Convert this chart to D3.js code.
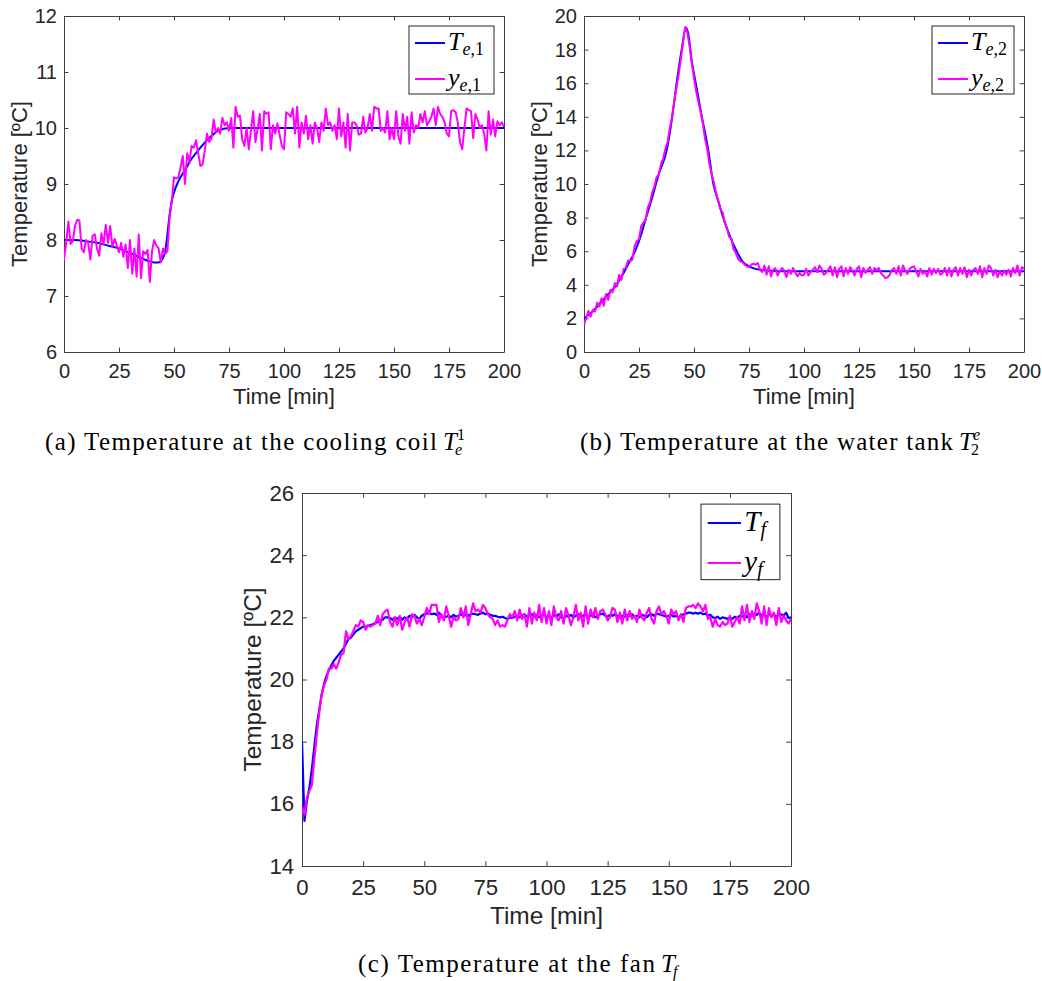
<!DOCTYPE html>
<html>
<head>
<meta charset="utf-8">
<script src="https://cdn.jsdelivr.net/npm/d3@7"></script>
<style>
  body { margin: 0; background: #fff; }
  .tick text { fill: #262626; font-family: "Liberation Sans", Arial, sans-serif; }
  .cap { font-family: "Liberation Serif", "Times New Roman", serif; fill: #000; }
</style>
</head>
<body>
<div id="chart"></div>
<script>
// time axis (one sample per minute)
const minutes = d3.range(0, 201)
const xTicks = [0, 25, 50, 75, 100, 125, 150, 175, 200]

// (a) cooling coil
const yTicksA = [6, 7, 8, 9, 10, 11, 12]
const te1Time = [0, 5, 10, 15, 20, 25, 30, 35, 38, 41, 43, 44, 45, 46, 47, 48, 49, 50, 52, 55, 58, 62, 66, 70, 75, 200]
const te1Values = [8.0, 8.0, 7.98, 7.95, 7.9, 7.85, 7.77, 7.68, 7.63, 7.6, 7.6, 7.62, 7.68, 7.8, 8.1, 8.45, 8.7, 8.85, 9.05, 9.25, 9.45, 9.65, 9.82, 9.95, 10.0, 10.0]
const ye1Values = [
  7.65, 7.95, 8.33, 7.93, 7.98, 8.25, 8.36, 8.35, 7.85, 7.78, 8.0, 7.95, 7.65, 8.08, 8.1, 7.85, 7.72, 8.12, 7.92, 8.27,
  7.95, 8.25, 7.88, 8.02, 7.9, 7.78, 7.95, 7.7, 7.92, 7.5, 8.0, 7.4, 7.85, 7.35, 8.1, 7.32, 7.8, 7.75, 7.82, 7.25,
  7.8, 8.0, 7.9, 7.85, 7.6, 7.85, 7.75, 7.8, 8.4, 8.7, 9.12, 9.1, 9.12, 9.3, 9.5, 9.0, 9.55, 9.4, 9.68, 9.65,
  9.78, 9.55, 9.32, 9.35, 9.6, 9.9, 9.75, 9.8, 10.15, 9.92, 10.0, 9.9, 10.18, 10.05, 10.1, 9.95, 10.18, 9.65, 10.38, 10.2,
  10.22, 9.8, 9.68, 10.0, 9.62, 9.97, 10.3, 9.75, 9.98, 10.25, 9.6, 10.3, 10.25, 10.28, 9.62, 10.05, 9.9, 10.08, 9.88, 9.68,
  9.62, 10.28, 10.25, 10.2, 10.35, 9.9, 10.38, 9.65, 10.1, 9.9, 10.22, 9.8, 10.05, 9.72, 10.1, 10.0, 9.75, 10.1, 9.95, 10.35,
  10.05, 10.1, 9.95, 10.05, 9.8, 10.35, 9.85, 10.1, 9.65, 10.25, 9.6, 10.1, 10.1, 10.05, 9.88, 9.9, 10.2, 9.92, 10.0, 10.25,
  9.95, 10.38, 10.35, 10.35, 9.95, 10.0, 9.92, 10.3, 9.8, 10.0, 9.8, 10.3, 9.85, 9.72, 10.25, 9.95, 10.2, 9.72, 10.28, 9.92,
  10.05, 10.0, 10.25, 10.1, 10.3, 10.05, 10.12, 10.2, 10.35, 10.05, 10.38, 10.25, 10.2, 10.1, 9.9, 9.85, 10.3, 10.32, 10.28, 10.1,
  9.75, 9.62, 10.0, 10.35, 10.32, 10.3, 9.82, 10.25, 10.15, 10.0, 10.05, 9.9, 9.6, 10.3, 9.88, 10.15, 9.85, 10.12, 10.05, 10.1,
  10.02
]

// (b) water tank
const yTicksB = [0, 2, 4, 6, 8, 10, 12, 14, 16, 18, 20]
const te2Time = [0, 3, 6, 10, 14.8, 18, 20, 23.2, 26, 28.2, 31, 34, 37.6, 40, 42.1, 44.4, 46.3, 47.3, 49, 50.8, 53, 56.5, 58.8, 61, 63.3, 66, 69.4, 72, 75, 80, 90, 200]
const te2Values = [2.0, 2.3, 2.7, 3.3, 4.0, 4.7, 5.2, 6.0, 7.0, 8.0, 9.2, 10.6, 12.0, 13.9, 16.0, 18.0, 19.3, 19.0, 17.3, 16.0, 14.4, 12.0, 10.0, 9.0, 8.0, 7.0, 6.0, 5.4, 5.1, 4.9, 4.8, 4.8]
const ye2Values = [
  1.65, 2.0, 2.45, 2.1, 2.5, 2.4, 2.95, 2.7, 3.2, 2.75, 3.45, 3.1, 3.7, 3.55, 4.1, 3.9, 4.6, 4.3, 4.95, 5.0,
  5.45, 5.4, 5.5, 6.3, 6.6, 6.7, 7.5, 7.7, 7.85, 8.6, 8.9, 9.5, 9.85, 10.4, 10.55, 11.2, 11.5, 12.1, 12.5, 13.3,
  14.0, 14.9, 15.7, 16.5, 17.4, 18.4, 19.35, 19.0, 18.2, 17.2, 16.3, 15.5, 14.9, 14.3, 13.6, 12.7, 12.1, 11.2, 10.6, 10.1,
  9.5, 9.0, 8.5, 8.3, 7.7, 7.4, 6.85, 6.75, 6.1, 5.9, 5.55, 5.4, 5.35, 5.2, 5.1, 5.05, 5.2, 5.25, 5.2, 5.3,
  4.9, 4.75, 5.15, 4.6, 5.1, 4.5, 4.9, 5.0, 4.55, 4.8, 5.0, 4.85, 4.45, 4.9, 4.65, 5.0, 4.75, 4.5, 4.7, 4.55,
  4.6, 4.95, 4.55, 4.75, 4.9, 5.05, 4.75, 5.15, 4.95, 4.6, 4.7, 4.9, 5.1, 4.55, 5.05, 4.45, 4.95, 5.1, 4.5, 5.0,
  4.65, 5.05, 4.85, 4.55, 4.95, 5.1, 4.45, 5.0, 4.7, 4.9, 5.05, 4.65, 5.0, 4.85, 5.0, 4.7, 4.55, 4.4, 4.45, 4.6,
  4.9, 5.0, 4.65, 5.1, 4.55, 5.15, 4.85, 4.65, 4.95, 5.05, 5.1, 4.8, 4.5, 4.95, 4.65, 4.8, 4.5, 5.0, 4.6, 4.95,
  4.7, 4.95, 4.6, 4.7, 5.0, 4.55, 5.0, 4.5, 4.9, 5.05, 4.55, 5.0, 4.65, 5.05, 4.45, 4.9, 4.55, 4.9, 5.0, 4.65,
  5.1, 4.45, 5.0, 4.65, 5.15, 5.0, 4.55, 4.9, 4.45, 4.8, 4.55, 4.85, 4.6, 4.9, 4.5, 5.0, 4.7, 5.15, 4.55, 5.05,
  4.95
]

// (c) fan
const yTicksC = [14, 16, 18, 20, 22, 24, 26]
const tfValues = [
  18.0, 15.45, 16.1, 16.5, 17.1, 17.8, 18.5, 19.0, 19.5, 19.85, 20.1, 20.3, 20.45, 20.6, 20.7, 20.8, 20.9, 21.0, 21.15, 21.3,
  21.35, 21.45, 21.55, 21.6, 21.65, 21.7, 21.7, 21.72, 21.75, 21.78, 21.82, 21.85, 21.9, 21.92, 22.0, 22.0, 21.98, 21.92, 22.0, 21.95,
  22.02, 21.92, 22.0, 21.95, 22.05, 22.0, 22.08, 22.0, 21.95, 22.05, 22.1, 22.12, 22.15, 22.1, 22.12, 22.08, 22.15, 22.05, 22.0, 22.02,
  22.05, 22.0, 22.08, 22.02, 22.05, 22.1, 22.05, 22.08, 22.05, 22.1, 22.12, 22.1, 22.08, 22.12, 22.15, 22.1, 22.12, 22.08, 22.05, 22.05,
  22.02, 22.0, 22.02, 21.98, 21.95, 22.0, 21.98, 22.02, 22.05, 22.0, 22.05, 22.1, 22.02, 22.05, 22.1, 22.02, 22.08, 22.0, 22.05, 22.1,
  22.0, 22.05, 21.98, 22.08, 22.02, 22.1, 22.0, 21.95, 22.05, 22.02, 22.08, 22.0, 22.05, 22.1, 22.0, 22.05, 22.1, 22.02, 22.05, 22.08,
  22.0, 22.05, 22.1, 22.12, 22.05, 22.02, 22.08, 22.05, 22.1, 22.05, 22.0, 22.05, 22.02, 22.08, 22.05, 22.1, 22.02, 22.05, 22.0, 22.08,
  22.05, 22.0, 22.08, 22.1, 22.05, 22.12, 22.1, 22.08, 22.05, 22.02, 22.05, 22.08, 22.02, 22.05, 22.0, 22.05, 22.1, 22.12, 22.15, 22.15,
  22.12, 22.15, 22.12, 22.15, 22.1, 22.12, 22.05, 22.08, 22.0, 21.98, 22.02, 21.95, 22.0, 21.98, 21.95, 22.0, 21.95, 22.02, 21.98, 22.05,
  22.02, 22.08, 22.0, 22.1, 22.05, 22.12, 22.08, 22.15, 22.05, 22.1, 22.0, 22.12, 22.05, 22.1, 22.0, 22.12, 22.1, 22.05, 22.15, 21.98,
  22.0
]
const yfValues = [
  15.9, 15.65, 16.2, 16.4, 16.6, 17.4, 18.2, 18.9, 19.5, 19.8, 20.0, 20.35, 20.35, 20.5, 20.35, 20.55, 20.8, 20.85, 21.55, 21.3,
  21.4, 21.55, 21.75, 21.7, 21.9, 21.85, 21.6, 21.75, 21.7, 21.75, 21.8, 22.05, 21.75, 22.1, 22.2, 22.25, 21.85, 21.7, 22.0, 21.75,
  22.05, 21.6, 21.85, 22.0, 21.7, 22.1, 22.05, 21.8, 21.95, 21.75, 22.0, 22.3, 22.1, 22.4, 22.4, 22.4, 21.85, 22.1, 21.9, 22.35,
  22.05, 21.7, 22.0, 21.9, 21.95, 22.3, 22.0, 22.35, 21.75, 22.1, 22.45, 22.2, 22.25, 22.15, 22.4, 22.3, 22.1, 22.0, 21.95, 21.75,
  21.9, 21.7, 21.75, 21.7, 21.9, 22.1, 22.0, 22.2, 21.9, 22.25, 21.95, 22.1, 21.7, 22.3, 21.8, 22.15, 21.9, 22.4, 21.85, 22.3,
  21.8, 22.2, 21.75, 22.35, 22.0, 21.9, 22.2, 21.8, 22.3, 22.05, 21.75, 22.0, 22.4, 21.9, 22.15, 21.7, 22.35, 21.8, 22.25, 22.0,
  22.3, 21.95, 22.2, 22.25, 22.1, 21.9, 22.0, 22.3, 22.25, 21.85, 22.15, 21.8, 22.25, 21.9, 22.2, 21.95, 22.05, 21.85, 22.25, 22.0,
  21.9, 22.15, 22.3, 21.95, 21.8, 22.2, 22.35, 22.1, 22.2, 22.05, 21.8, 22.25, 22.1, 22.2, 21.9, 22.1, 21.85, 22.3, 22.35, 22.35,
  22.4, 22.3, 22.45, 22.35, 22.2, 22.4, 21.95, 22.0, 21.7, 21.95, 21.75, 21.7, 21.85, 21.75, 21.8, 22.05, 21.7, 21.85, 22.0, 21.8,
  22.35, 21.9, 22.4, 21.85, 22.2, 21.95, 22.45, 22.2, 21.8, 22.35, 21.75, 22.3, 22.0, 22.15, 21.75, 22.3, 21.85, 22.05, 21.9, 21.8,
  21.95
]

const WIDTH = 1042
const HEIGHT = 981
const BLUE = "#0000ff"
const MAGENTA = "#ff00ff"
const AXIS = "#404040"

const svg = d3.select("#chart")
  .append("svg")
  .attr("width", WIDTH)
  .attr("height", HEIGHT)

svg.append("rect").attr("width", WIDTH).attr("height", HEIGHT).attr("fill", "#fff")

function styleAxis(sel, fontSize, keepLabels) {
  sel.select(".domain").attr("stroke", AXIS).attr("stroke-width", 1)
  sel.selectAll(".tick line").attr("stroke", AXIS).attr("stroke-width", 1)
  if (!keepLabels) sel.selectAll(".tick text").remove()
  sel.selectAll(".tick text").attr("font-size", fontSize)
}

function drawPanel(p) {
  const s = p.scale
  const x = d3.scaleLinear().domain([0, 200]).range([p.left, p.left + p.width])
  const y = d3.scaleLinear().domain(p.yDomain).range([p.top + p.height, p.top])
  const g = svg.append("g")
  const tickLen = 4.4 * s
  const fontSize = 20 * s
  const fmt = d => d

  g.append("clipPath").attr("id", "clip-" + p.id)
    .append("rect")
    .attr("x", p.left).attr("y", p.top)
    .attr("width", p.width).attr("height", p.height)

  g.append("g")
    .attr("transform", `translate(0,${p.top + p.height})`)
    .call(d3.axisBottom(x).tickValues(xTicks).tickFormat(fmt).tickSizeInner(-tickLen).tickSizeOuter(0).tickPadding(12 * s))
    .call(a => styleAxis(a, fontSize, true))

  g.append("g")
    .attr("transform", `translate(0,${p.top})`)
    .call(d3.axisTop(x).tickValues(xTicks).tickSizeInner(-tickLen).tickSizeOuter(0))
    .call(a => styleAxis(a, fontSize, false))

  g.append("g")
    .attr("transform", `translate(${p.left},0)`)
    .call(d3.axisLeft(y).tickValues(p.yTicks).tickFormat(fmt).tickSizeInner(-tickLen).tickSizeOuter(0).tickPadding(7 * s))
    .call(a => styleAxis(a, fontSize, true))

  g.append("g")
    .attr("transform", `translate(${p.left + p.width},0)`)
    .call(d3.axisRight(y).tickValues(p.yTicks).tickSizeInner(-tickLen).tickSizeOuter(0))
    .call(a => styleAxis(a, fontSize, false))

  // axis titles
  g.append("text")
    .attr("x", p.left + p.width / 2)
    .attr("y", p.top + p.height + 52 * s)
    .attr("text-anchor", "middle")
    .attr("font-family", "Liberation Sans, Arial, sans-serif")
    .attr("font-size", 22 * s)
    .attr("fill", "#262626")
    .text("Time [min]")

  g.append("text")
    .attr("transform", `translate(${p.left - 37 * s},${p.top + p.height / 2}) rotate(-90)`)
    .attr("text-anchor", "middle")
    .attr("font-family", "Liberation Sans, Arial, sans-serif")
    .attr("font-size", 22 * s)
    .attr("fill", "#262626")
    .text("Temperature [ºC]")

  // lines
  const lines = g.append("g").attr("clip-path", `url(#clip-${p.id})`)
  const smooth = d3.line().curve(p.smoothCurve).x(d => x(d[0])).y(d => y(d[1]))
  lines.append("path")
    .datum(p.trueTime.map((t, i) => [t, p.trueValues[i]]))
    .attr("fill", "none")
    .attr("stroke", BLUE)
    .attr("stroke-width", 2 * s)
    .attr("stroke-linejoin", "round")
    .attr("d", smooth)

  const raw = d3.line().x(d => x(d[0])).y(d => y(d[1]))
  lines.append("path")
    .datum(minutes.map((t, i) => [t, p.measured[i]]))
    .attr("fill", "none")
    .attr("stroke", MAGENTA)
    .attr("stroke-width", 2 * s)
    .attr("stroke-linejoin", "round")
    .attr("d", raw)

  // legend
  const lw = p.legendWidth * s
  const lh = 68 * s
  const lx = p.left + p.width - 10 * s - lw
  const ly = p.top + 10 * s
  const lg = g.append("g")
  lg.append("rect")
    .attr("x", lx).attr("y", ly)
    .attr("width", lw).attr("height", lh)
    .attr("fill", "#fff")
    .attr("stroke", "#262626")
    .attr("stroke-width", 1)

  p.legend.forEach((item, i) => {
    const rowY = ly + (i === 0 ? 17 : 53) * s
    lg.append("line")
      .attr("x1", lx + 6 * s).attr("x2", lx + 36 * s)
      .attr("y1", rowY).attr("y2", rowY)
      .attr("stroke", i === 0 ? BLUE : MAGENTA)
      .attr("stroke-width", 2 * s)
    const t = lg.append("text")
      .attr("x", lx + 39 * s)
      .attr("y", rowY + 7 * s)
      .attr("font-family", "Liberation Serif, Times New Roman, serif")
      .attr("font-size", 26 * s)
      .attr("fill", "#000")
    t.append("tspan").attr("font-style", "italic").text(item.base)
    t.append("tspan").attr("dy", 5 * s).attr("font-size", 18 * s).attr("font-style", "italic").text(item.subItalic)
    if (item.subRest) t.append("tspan").attr("font-size", 18 * s).text(item.subRest)
  })
}

// caption: label text spread to the given width, then T with super/subscripts
function caption(x0, y0, label, labelWidth, sup, sub) {
  svg.append("text").attr("class", "cap")
    .attr("x", x0).attr("y", y0).attr("font-size", 25)
    .attr("textLength", labelWidth).attr("lengthAdjust", "spacing")
    .text(label)
  const tx = x0 + labelWidth + 6
  const T = svg.append("text").attr("class", "cap")
    .attr("x", tx).attr("y", y0).attr("font-size", 25).attr("font-style", "italic").text("T")
  const tw = T.node().getComputedTextLength()
  if (sup) {
    svg.append("text").attr("class", "cap")
      .attr("x", tx + tw).attr("y", y0 - 10).attr("font-size", 16)
      .attr("font-style", sup.italic ? "italic" : "normal").text(sup.text)
  }
  if (sub) {
    svg.append("text").attr("class", "cap")
      .attr("x", tx + tw - 2).attr("y", y0 + 5).attr("font-size", 16)
      .attr("font-style", sub.italic ? "italic" : "normal").text(sub.text)
  }
}

drawPanel({
  id: "a", left: 64, top: 16, width: 440, height: 336, scale: 1,
  yDomain: [6, 12], yTicks: yTicksA,
  trueTime: te1Time, trueValues: te1Values, smoothCurve: d3.curveMonotoneX,
  measured: ye1Values, legendWidth: 85,
  legend: [{ base: "T", subItalic: "e", subRest: ",1" }, { base: "y", subItalic: "e", subRest: ",1" }]
})

drawPanel({
  id: "b", left: 584, top: 16, width: 440, height: 336, scale: 1,
  yDomain: [0, 20], yTicks: yTicksB,
  trueTime: te2Time, trueValues: te2Values, smoothCurve: d3.curveMonotoneX,
  measured: ye2Values, legendWidth: 82,
  legend: [{ base: "T", subItalic: "e", subRest: ",2" }, { base: "y", subItalic: "e", subRest: ",2" }]
})

drawPanel({
  id: "c", left: 302, top: 493, width: 489, height: 373, scale: 1.111,
  yDomain: [14, 26], yTicks: yTicksC,
  trueTime: minutes, trueValues: tfValues, smoothCurve: d3.curveLinear,
  measured: yfValues, legendWidth: 71,
  legend: [{ base: "T", subItalic: "f" }, { base: "y", subItalic: "f" }]
})

caption(45, 450, "(a) Temperature at the cooling coil", 392, { text: "1", italic: false }, { text: "e", italic: true })
caption(580, 450, "(b) Temperature at the water tank", 373, { text: "e", italic: true }, { text: "2", italic: false })
caption(358, 972, "(c) Temperature at the fan", 297, null, { text: "f", italic: true })
</script>
</body>
</html>
